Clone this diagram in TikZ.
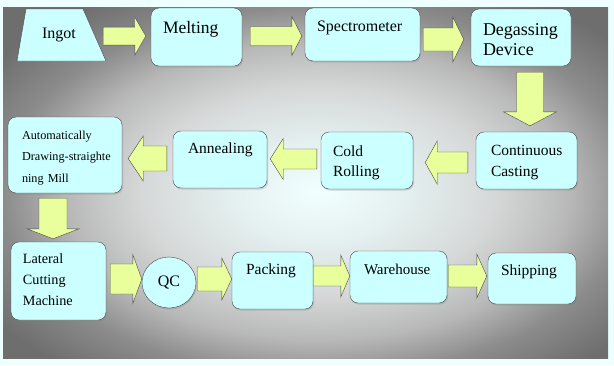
\documentclass[tikz,border=0pt]{standalone}
\usepackage{fontspec}
\setmainfont{Liberation Serif}
\usepackage{tikz}
\usetikzlibrary{arrows.meta,positioning,calc,shapes.geometric,shadows}
\definecolor{frame}{HTML}{EEFFFF}
\definecolor{boxfill}{HTML}{CCFFFF}
\definecolor{boxline}{HTML}{4A4A4A}
\definecolor{arrowfill}{HTML}{E8FF9C}
\definecolor{bgA}{HTML}{F2FFFF}
\definecolor{bgB}{HTML}{E6F2F2}
\definecolor{bgC}{HTML}{D6D8D8}
\definecolor{bgD}{HTML}{B8B8B8}
\definecolor{bgE}{HTML}{8C8C8C}
\definecolor{bgF}{HTML}{6E6E6E}
\pgfdeclareradialshading{bgglow}{\pgfpoint{0bp}{0bp}}{color(0bp)=(bgA); color(6bp)=(bgB); color(14bp)=(bgC); color(20bp)=(bgD); color(25bp)=(bgE); color(31bp)=(bgF); color(50bp)=(bgF)}
\tikzset{
  blkshaft/.store in=\blkshaft, blkhead/.store in=\blkhead, blklen/.store in=\blklen,
  blkshaft=10pt, blkhead=21pt, blklen=11pt,
  fsz/.style 2 args={font=\fontsize{#1}{#2}\selectfont},
  box/.style={draw=boxline, fill=boxfill, rounded corners=8pt, align=left, inner xsep=12pt, inner ysep=0pt,
    drop shadow={shadow xshift=1pt, shadow yshift=-1.5pt, opacity=.3}},
  blockarrow/.style={draw=boxline, fill=arrowfill, line join=miter,
    to path={
      ($(\tikztostart)!\blkshaft!90:(\tikztotarget)$)
      -- ($($(\tikztotarget)!\blklen!(\tikztostart)$)!\blkshaft!90:(\tikztotarget)$)
      -- ($($(\tikztotarget)!\blklen!(\tikztostart)$)!\blkhead!90:(\tikztotarget)$)
      -- (\tikztotarget)
      -- ($($(\tikztotarget)!\blklen!(\tikztostart)$)!\blkhead!-90:(\tikztotarget)$)
      -- ($($(\tikztotarget)!\blklen!(\tikztostart)$)!\blkshaft!-90:(\tikztotarget)$)
      -- ($(\tikztostart)!\blkshaft!-90:(\tikztotarget)$)
      -- cycle}}
}

\begin{document}
\begin{tikzpicture}[x=1pt,y=-1pt]
\fill[frame] (0,0) rectangle (614,365);
\useasboundingbox (0,0) rectangle (614,365);
\begin{scope}
\clip (3,7) rectangle (608,358);
\shade[shading=bgglow] (3,7) rectangle (633,377);
\end{scope}

\draw[draw=boxline, fill=boxfill] (17,61) -- (106,61) -- (83,9) -- (26,9) -- cycle;
\node[minimum width=89pt, minimum height=52pt, inner sep=0pt, fsz={16}{20}] (ingot) at (59,35) {Ingot};
\node[box, fsz={17.5}{21}, text width=67pt, text height=25pt, text depth=33pt] (melt) at (196.5,37) {Melting};
\node[box, fsz={16}{20}, text width=91pt, text height=23pt, text depth=30pt] (spec) at (362.5,34.5) {Spectrometer};
\node[box, fsz={18}{20.5}, text width=76pt, text height=26pt, text depth=31pt] (degas) at (521,37.5) {Degassing\\Device};
\node[box, fsz={15.5}{21}, inner xsep=15pt, text width=71pt, text height=23pt, text depth=34pt] (cc) at (526.5,160.5) {Continuous\\Casting};
\node[box, fsz={15.5}{20.5}, text width=68pt, text height=24pt, text depth=33pt] (cold) at (367,160.5) {Cold\\Rolling};
\node[box, fsz={15.5}{20}, inner xsep=15pt, text width=64pt, text height=22pt, text depth=35pt] (ann) at (220,159.5) {Annealing};
\node[box, fsz={12.2}{21.5}, inner xsep=14pt, text width=86pt, text height=22pt, text depth=54pt] (auto) at (65,155) {Automatically\\\mbox{Drawing-straighte}\\ning Mill};
\node[box, fsz={14.2}{21}, text width=71pt, text height=21pt, text depth=57pt] (lat) at (58.5,281) {Lateral\\Cutting\\Machine};
\node[ellipse, draw=boxline, fill=boxfill, minimum width=54pt, minimum height=51pt, inner sep=0pt, fsz={16}{20},
  drop shadow={shadow xshift=1pt, shadow yshift=-1.5pt, opacity=.3}] (qc) at (169,282.5) {QC};
\node[box, fsz={15.5}{20}, inner xsep=14pt, text width=53pt, text height=22pt, text depth=35pt] (pack) at (272.5,280.5) {Packing};
\node[box, fsz={15}{20}, inner xsep=14pt, text width=69pt, text height=23pt, text depth=29pt] (wh) at (398.5,277) {Warehouse};
\node[box, fsz={15.5}{20}, inner xsep=13pt, text width=62pt, text height=22pt, text depth=29pt] (ship) at (532,278.5) {Shipping};

\draw[blockarrow, blkshaft=9pt, blkhead=19pt, blklen=11pt] ([shift={(-0.5,-25)}]ingot.south east) to ([shift={(-5,-1)}]melt.west);
\draw[blockarrow, blkshaft=9.5pt, blkhead=19.5pt, blklen=10pt] ([shift={(8,-1)}]melt.east) to ([shift={(-3,1.5)}]spec.west);
\draw[blockarrow, blkshaft=11.5pt, blkhead=22.5pt, blklen=11pt] ([shift={(3,5)}]spec.east) to ([shift={(-7,2)}]degas.west);
\draw[blockarrow, blkshaft=13.5pt, blkhead=26.5pt, blklen=14pt] ([shift={(9,6)}]degas.south) to ([shift={(3.5,-6)}]cc.north);
\draw[blockarrow, blkshaft=10.5pt, blkhead=21.5pt, blklen=12pt] ([shift={(-8,2)}]cc.west) to ([shift={(12,2)}]cold.east);
\draw[blockarrow, blkshaft=10pt, blkhead=20.5pt, blklen=13pt] ([shift={(-4,-1.5)}]cold.west) to ([shift={(3,-0.5)}]ann.east);
\draw[blockarrow, blkshaft=12.5pt, blkhead=22.5pt, blklen=15pt] ([shift={(-6,-1)}]ann.west) to ([shift={(6,3.5)}]auto.east);
\draw[blockarrow, blkshaft=14pt, blkhead=26pt, blklen=10pt] ([shift={(-12,5)}]auto.south) to ([shift={(-5.5,-3)}]lat.north);
\draw[blockarrow, blkshaft=15pt, blkhead=24.5pt, blklen=9pt] ([shift={(4,-2)}]lat.east) to ([shift={(0,-3.5)}]qc.west);
\draw[blockarrow, blkshaft=12pt, blkhead=21pt, blklen=10pt] ([shift={(1,-3.5)}]qc.east) to ([shift={(0,-1.5)}]pack.west);
\draw[blockarrow, blkshaft=10pt, blkhead=21pt, blklen=9pt] ([shift={(0,-4.5)}]pack.east) to ([shift={(0,-1)}]wh.west);
\draw[blockarrow, blkshaft=11pt, blkhead=22pt, blklen=10pt] ([shift={(1,-1)}]wh.east) to ([shift={(-1,-2.5)}]ship.west);
\end{tikzpicture}
\end{document}
